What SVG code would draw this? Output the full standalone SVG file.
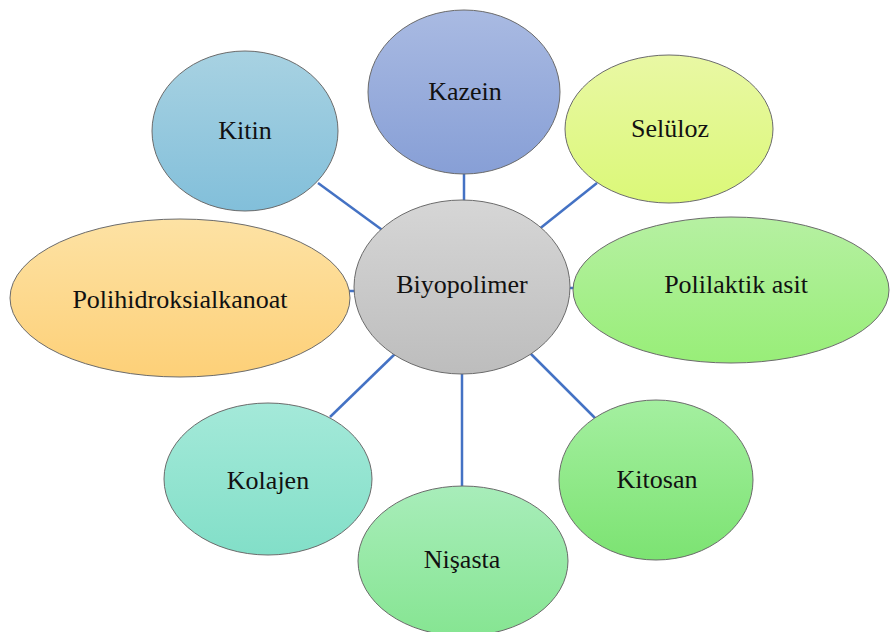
<svg xmlns="http://www.w3.org/2000/svg" width="890" height="632" viewBox="0 0 890 632">
<defs>
<linearGradient id="gGray" x1="0" y1="0" x2="0" y2="1"><stop offset="0" stop-color="#d6d6d6"/><stop offset="1" stop-color="#bdbdbd"/></linearGradient>
<linearGradient id="gKitin" x1="0" y1="0" x2="0" y2="1"><stop offset="0" stop-color="#a8d2e2"/><stop offset="1" stop-color="#82bfda"/></linearGradient>
<linearGradient id="gKazein" x1="0" y1="0" x2="0" y2="1"><stop offset="0" stop-color="#a9bae2"/><stop offset="1" stop-color="#879fd6"/></linearGradient>
<linearGradient id="gSel" x1="0" y1="0" x2="0" y2="1"><stop offset="0" stop-color="#e9f8a4"/><stop offset="1" stop-color="#dbf878"/></linearGradient>
<linearGradient id="gPla" x1="0" y1="0" x2="0" y2="1"><stop offset="0" stop-color="#b6f0a2"/><stop offset="1" stop-color="#98ee78"/></linearGradient>
<linearGradient id="gPha" x1="0" y1="0" x2="0" y2="1"><stop offset="0" stop-color="#fde2a4"/><stop offset="1" stop-color="#fdd078"/></linearGradient>
<linearGradient id="gKol" x1="0" y1="0" x2="0" y2="1"><stop offset="0" stop-color="#a4e9d9"/><stop offset="1" stop-color="#82dfc8"/></linearGradient>
<linearGradient id="gNis" x1="0" y1="0" x2="0" y2="1"><stop offset="0" stop-color="#a8edba"/><stop offset="1" stop-color="#86e592"/></linearGradient>
<linearGradient id="gKit" x1="0" y1="0" x2="0" y2="1"><stop offset="0" stop-color="#a4efa0"/><stop offset="1" stop-color="#7ce372"/></linearGradient>
</defs>
<style>
.n ellipse{stroke:#6b6b6b;stroke-width:1}
.n text{font-family:"Liberation Serif","Times New Roman",serif;font-size:26px;fill:#111;text-anchor:middle}
.c line{stroke:#4472c4;stroke-width:2.5}
</style>
<rect width="890" height="632" fill="#ffffff"/>
<g id="connectors" class="c">
<line x1="318" y1="183" x2="385" y2="232"/>
<line x1="464" y1="172" x2="464" y2="202"/>
<line x1="597" y1="183" x2="538" y2="230"/>
<line x1="568" y1="288" x2="576" y2="288"/>
<line x1="348" y1="291" x2="357" y2="291"/>
<line x1="330" y1="417" x2="398" y2="351"/>
<line x1="462" y1="370" x2="462" y2="488"/>
<line x1="596" y1="419" x2="528" y2="351"/>
</g>
<g id="kitin" class="n"><ellipse cx="245" cy="131" rx="93" ry="80" fill="url(#gKitin)"/><text x="245" y="139">Kitin</text></g>
<g id="kazein" class="n"><ellipse cx="464" cy="92" rx="96" ry="82" fill="url(#gKazein)"/><text x="465" y="100">Kazein</text></g>
<g id="seluloz" class="n"><ellipse cx="669" cy="129" rx="104" ry="74" fill="url(#gSel)"/><text x="670" y="137">Selüloz</text></g>
<g id="polilaktik" class="n"><ellipse cx="731" cy="290" rx="158" ry="73" fill="url(#gPla)"/><text x="736" y="293">Polilaktik asit</text></g>
<g id="pha" class="n"><ellipse cx="180" cy="298" rx="170" ry="79" fill="url(#gPha)"/><text x="180" y="308">Polihidroksialkanoat</text></g>
<g id="kolajen" class="n"><ellipse cx="268" cy="479" rx="104" ry="76" fill="url(#gKol)"/><text x="268" y="489">Kolajen</text></g>
<g id="nisasta" class="n"><ellipse cx="463" cy="561" rx="105" ry="75" fill="url(#gNis)"/><text x="462" y="568">Nişasta</text></g>
<g id="kitosan" class="n"><ellipse cx="656" cy="480" rx="97" ry="80" fill="url(#gKit)"/><text x="657" y="488">Kitosan</text></g>
<g id="biyopolimer" class="n"><ellipse cx="462" cy="287" rx="108" ry="87" fill="url(#gGray)"/><text x="462" y="293">Biyopolimer</text></g>
</svg>
